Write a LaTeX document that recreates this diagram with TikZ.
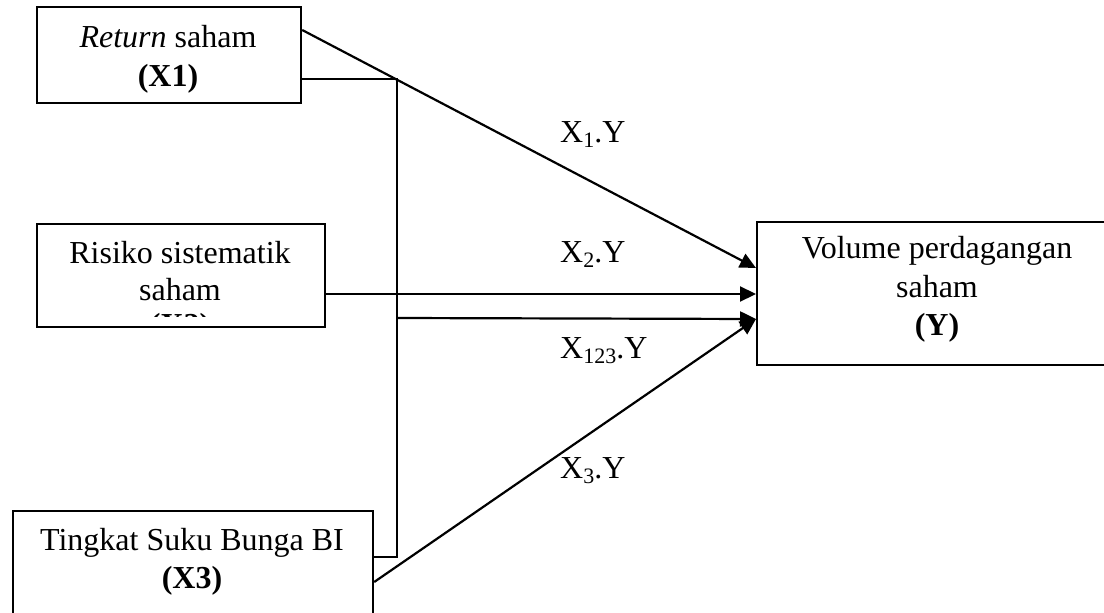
\documentclass[tikz,border=0pt]{standalone}
\usepackage{fontspec}
\setmainfont{Liberation Serif}
\usetikzlibrary{arrows.meta}

% lowered, smaller index for the path labels
\newcommand{\lowidx}[1]{\raisebox{-5pt}{\fontsize{22}{22}\selectfont #1}}

\begin{document}
\begin{tikzpicture}[x=1pt,y=-1pt,
  box/.style={draw,line width=2.2pt,rectangle,inner sep=0pt,anchor=north west},
  txt/.style={anchor=base,inner sep=0pt,font=\fontsize{32}{38}\selectfont},
  lbl/.style={anchor=base west,inner sep=0pt,font=\fontsize{32}{38}\selectfont},
  link/.style={line width=2.2pt},
  arr/.style={line width=2.2pt,-{Triangle[length=16pt,width=15pt]}}]

\useasboundingbox (0,0) rectangle (1104,613);
\clip (0,0) rectangle (1104,613);

% boxes
\node[box,minimum width=264pt,minimum height=96pt] (x1) at (36,6) {};
\node[box,minimum width=288pt,minimum height=103pt] (x2) at (36,223) {};
\node[box,minimum width=360pt,minimum height=130pt] (x3) at (12,510) {};
\node[box,minimum width=364pt,minimum height=143pt] (y) at (756,221) {};

% box texts
\node[txt] (x1a) at (168,47) {\textit{Return} saham};
\node[txt] (x1b) at (168,86) {\textbf{(X1)}};
\node[txt] (x2a) at (180,263) {Risiko sistematik};
\node[txt] (x2b) at (180,300) {saham};
\begin{scope}
  \clip (38,225) rectangle (322,316);
  \node[txt] (x2c) at (180,335) {\textbf{(X2)}};
\end{scope}
\node[txt] (x3a) at (192,550) {Tingkat Suku Bunga BI};
\node[txt] (x3b) at (192,588) {\textbf{(X3)}};
\node[txt] (ya) at (937,258) {Volume perdagangan};
\node[txt] (yb) at (937,297) {saham};
\node[txt] (yc) at (937,335) {\textbf{(Y)}};

% connection points
\coordinate (x1p) at (x1.east |- 0,30);
\coordinate (x1q) at (x1.east |- 0,79);
\coordinate (x2p) at (x2.east |- 0,294);
\coordinate (x3q) at (x3.east |- 0,557);
\coordinate (x3p) at (x3.east |- 0,582);
\coordinate (jt) at (397,79);
\coordinate (jm) at (397,318);
\coordinate (jb) at (397,557);
\coordinate (y1) at (y.west |- 0,268);
\coordinate (y2) at (y.west |- 0,294);
\coordinate (y3) at (y.west |- 0,319);

% connectors
\draw[arr] (x1p) -- (y1);
\draw[arr] (x2p) -- (y2);
\draw[arr] (x3p) -- (y3);
\draw[link] (x1q) -- (jt) -- (jb) -- (x3q);
\draw[arr] (jm) -- (y3);

% path labels
\node[lbl] (l1) at (560,142) {X\lowidx{1}.Y};
\node[lbl] (l2) at (560,262) {X\lowidx{2}.Y};
\node[lbl] (l3) at (560,358) {X\lowidx{123}.Y};
\node[lbl] (l4) at (560,478) {X\lowidx{3}.Y};
\end{tikzpicture}
\end{document}
